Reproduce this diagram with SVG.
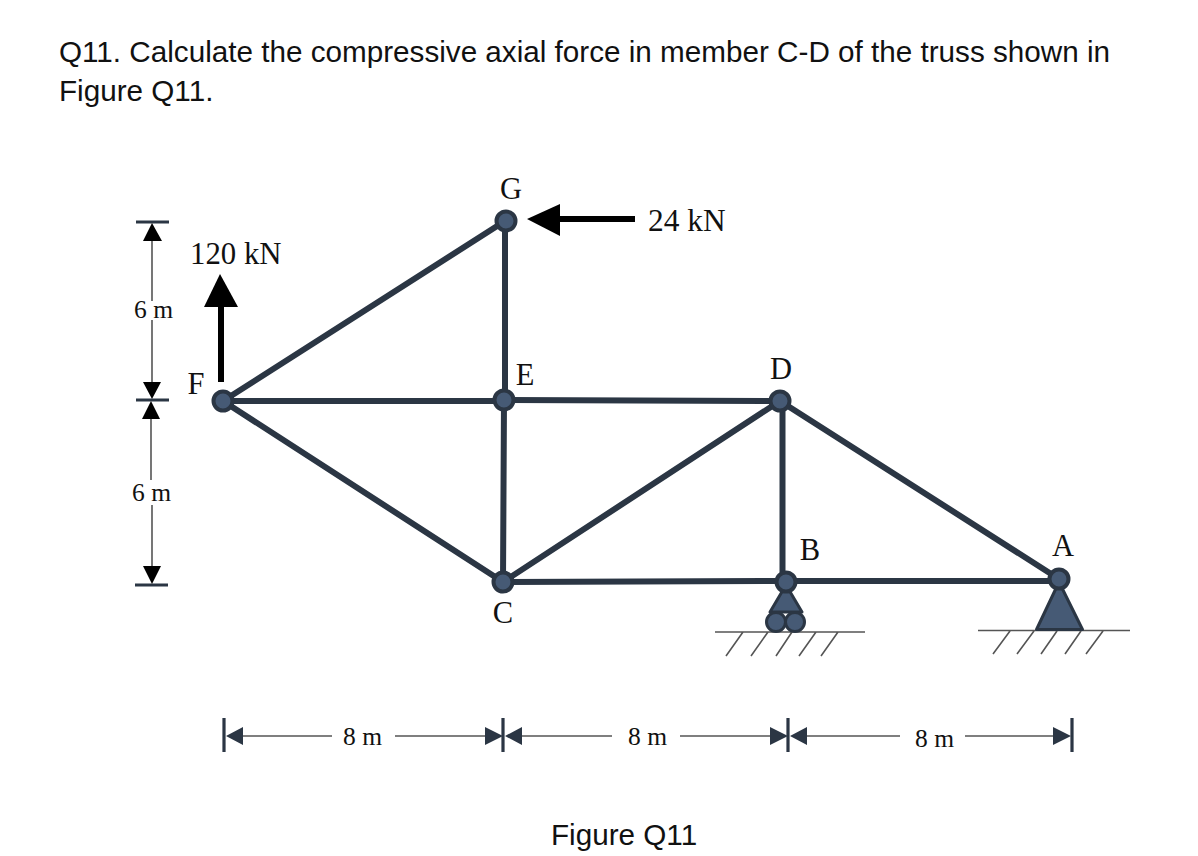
<svg xmlns="http://www.w3.org/2000/svg" width="1198" height="856" viewBox="0 0 1198 856">
<style>
.h{font-family:"Liberation Sans",Arial,sans-serif;font-size:29.660px;fill:#111}
.s{font-family:"Liberation Serif","Times New Roman",serif;fill:#111}
.l{font-size:31.400px}.n{font-size:30.500px}.d{font-size:25.500px}
.m{stroke:#2b3644;stroke-width:6;fill:none}
.j{fill:#465a75;stroke:#2b3644;stroke-width:4}
.sup{fill:#465a75;stroke:#2b3644;stroke-width:3;stroke-linejoin:round}
.g{stroke:#555;stroke-width:1.6;fill:none}
.t{stroke:#2b3644;stroke-width:3.200;fill:none}
.dl{stroke:#555;stroke-width:1.600;fill:none}
.ah{fill:#000}.bh{fill:#2b3644}
.lo{stroke:#000;stroke-width:6;fill:none}
</style>
<rect width="1198" height="856" fill="#fff"/>
<text class="h" x="59" y="62">Q11. Calculate the compressive axial force in member C-D of the truss shown in</text>
<text class="h" x="59" y="101">Figure Q11.</text>
<text class="h" x="551" y="845">Figure Q11</text>
<g id="connectors">
<path class="m" d="M223 401L505 221M505 221L505 400M223 401H504M223 401L503 582M504 400L503 582M504 400L780 401M503 582L780 401M503 582L786 581M782.500 401V582M780 401L1059 579M786 581H1059"/>
</g>
<g id="dimensions">
<path class="t" d="M136 222H169M136 400H169M135 585H168M224 718V752M503 718V752M788 718V752M1072 718V752"/>
<path class="dl" d="M152 241V301M152 320V382M151 419V480M152 505V566M243 736H332M395 736H485M522 736H612M680 736H770M807 736H900M965 736H1053"/>
<path class="ah" d="M152 223L143 241H162ZM152 399L143 382H161ZM151 401L142 419H160ZM152 584L143 566H161Z"/>
<path class="bh" d="M226 736L243 727V745ZM503 736L485 727V745ZM505 736L522 727V745ZM788 736L770 727V745ZM790 736L807 727V745ZM1071 736L1053 727V745Z"/>
<text class="s d" x="134" y="318">6 m</text>
<text class="s d" x="132" y="501">6 m</text>
<text class="s d" x="343" y="745">8 m</text>
<text class="s d" x="628" y="745">8 m</text>
<text class="s d" x="915" y="747">8 m</text>
</g>
<g id="load-120">
<path class="lo" d="M221 382V305"/><path class="ah" d="M220 274L204 307H238Z"/>
<text class="s" style="font-size:30.800px" x="190" y="264">120 kN</text>
</g>
<g id="load-24">
<path class="lo" d="M555 219H635"/><path class="ah" d="M527 219L560 204V236Z"/>
<text class="s l" x="648" y="231">24 kN</text>
</g>
<g id="support-B">
<path class="g" d="M715 632H865M726 656L743 632M751 656L768 632M776 656L792 632M799 656L816 632M821 656L838 632"/>
<path class="sup" d="M786 585L770 612H802Z"/>
<circle class="sup" cx="776" cy="622" r="9.500"/><circle class="sup" cx="795" cy="622" r="9.500"/>
</g>
<g id="support-A">
<path class="g" d="M978 630.500H1130M993 654L1010 631M1017 654L1034 631M1041 654L1057 631M1065 654L1081 631M1086 654L1103 631"/>
<path class="sup" d="M1059 582L1036.500 629.500H1082.500Z"/>
</g>
<g id="node-G"><circle class="j" cx="506" cy="221" r="9.500"/><text class="s n" x="511" y="199" text-anchor="middle">G</text></g>
<g id="node-F"><circle class="j" cx="223" cy="401" r="9.500"/><text class="s n" x="196" y="394" text-anchor="middle">F</text></g>
<g id="node-E"><circle class="j" cx="504" cy="400" r="9.500"/><text class="s n" x="525" y="385" text-anchor="middle">E</text></g>
<g id="node-D"><circle class="j" cx="780" cy="401" r="9.500"/><text class="s n" x="781" y="379" text-anchor="middle">D</text></g>
<g id="node-C"><circle class="j" cx="503" cy="582" r="9.500"/><text class="s n" x="503" y="623" text-anchor="middle">C</text></g>
<g id="node-B"><circle class="j" cx="786" cy="582" r="9.500"/><text class="s n" x="810" y="560" text-anchor="middle">B</text></g>
<g id="node-A"><circle class="j" cx="1059" cy="579" r="9.500"/><text class="s n" x="1063" y="556" text-anchor="middle">A</text></g>
</svg>
